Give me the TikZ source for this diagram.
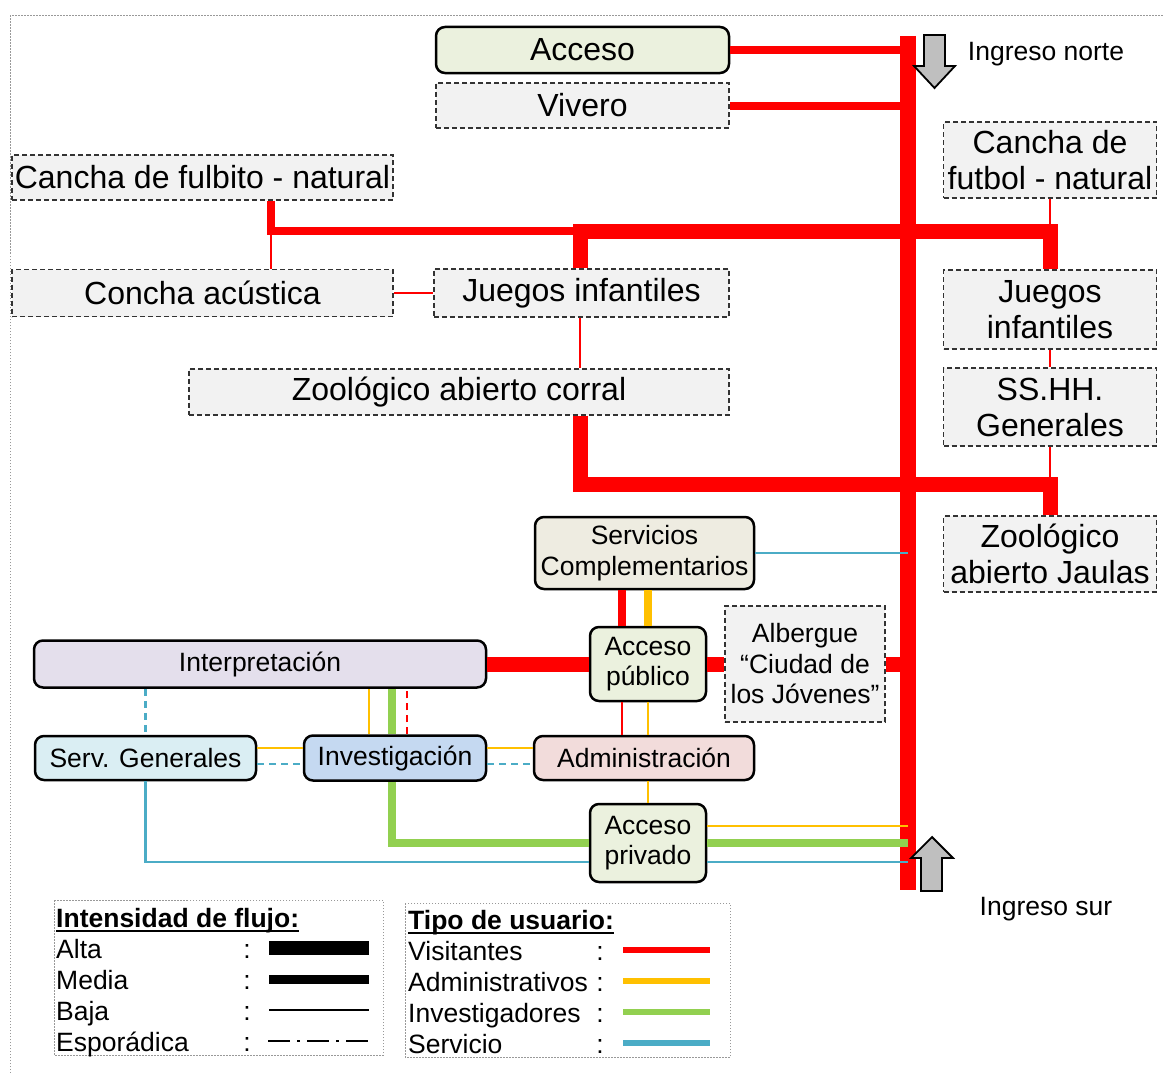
\documentclass[tikz,border=0pt]{standalone}
\usepackage{fontspec}
\setmainfont{Liberation Sans}
\usetikzlibrary{calc}
\definecolor{cred}{HTML}{FF0000}
\definecolor{cyel}{HTML}{FFC000}
\definecolor{cgreen}{HTML}{92D050}
\definecolor{cblue}{HTML}{4BACC6}
\definecolor{fgris}{HTML}{F2F2F2}
\definecolor{fverde}{HTML}{EBF1DE}
\definecolor{fbeige}{HTML}{EEECE1}
\definecolor{flila}{HTML}{E4DFEC}
\definecolor{fceleste}{HTML}{DAEEF3}
\definecolor{fazul}{HTML}{C5D9F1}
\definecolor{frosa}{HTML}{F2DCDB}
\definecolor{cflecha}{HTML}{BFBFBF}
\newcommand{\grande}{\fontsize{32}{36}\selectfont}
\newcommand{\chico}{\fontsize{26.5}{30.5}\selectfont}
\tikzset{
  zona/.style={draw=black!80, dash pattern=on 5pt off 3pt, line width=1.3pt, fill=fgris, align=center, inner sep=0pt, font=\grande},
  area/.style={draw=black, line width=2.5pt, rounded corners=9pt, fill=#1, align=center, inner sep=0pt, font=\chico},
  area/.default=fverde,
  alta/.style={draw=#1, line width=15pt},
  alta/.default=cred,
  media/.style={draw=#1, line width=8pt},
  media/.default=cred,
  baja/.style={draw=#1, line width=2.5pt},
  baja/.default=cred,
  espor/.style={draw=#1, line width=2.5pt, dash pattern=on 7pt off 5pt},
  espor/.default=cred,
  flecha/.style={draw=black, line width=1.8pt, fill=cflecha},
  marco/.style={draw=black!40, dash pattern=on 1.5pt off 1.5pt, line width=1pt},
  rotulo/.style={font=\chico, inner sep=0pt},
  leyenda/.style={font=\chico, inner sep=0pt, anchor=base west},
}

\begin{document}
\begin{tikzpicture}[x=1pt, y=-1pt]
  \useasboundingbox (0,0) rectangle (1164,1073);
  \draw[marco] (10,1073) -- (10,16) -- (1164,16);

  % zonas de visitantes
  \node[area, font=\grande, minimum width=293, minimum height=46] (acc) at (582.5,50) {Acceso};
  \node[zona, minimum width=293, minimum height=45] (viv) at (582.5,105.5) {Vivero};
  \node[zona, minimum width=381, minimum height=45] (fulb) at (202.5,177.5) {Cancha de fulbito - natural};
  \node[zona, minimum width=381, minimum height=47] (concha) at (202.5,293) {Concha acústica};
  \node[zona, minimum width=295, minimum height=48] (jueM) at (581.5,293) {Juegos infantiles};
  \node[zona, minimum width=540, minimum height=46] (zooC) at (459,392) {Zoológico abierto corral};
  \node[zona, minimum width=213, minimum height=76] (futR) at (1050,160) {Cancha de\\futbol - natural};
  \node[zona, minimum width=213, minimum height=79] (jueR) at (1050,309.5) {Juegos\\infantiles};
  \node[zona, minimum width=213, minimum height=78] (ssh) at (1050,407) {SS.HH.\\Generales};
  \node[zona, minimum width=213, minimum height=76] (zooJ) at (1050,554) {Zoológico\\abierto Jaulas};

  % zona de servicio e investigacion
  \node[area=fbeige, minimum width=219, minimum height=72] (servC) at (644.5,553) {Servicios\\Complementarios};
  \node[area, minimum width=116, minimum height=74] (apub) at (648,664) {Acceso\\público};
  \node[zona, font=\chico, minimum width=160, minimum height=116] (alb) at (805,664) {Albergue\\“Ciudad de\\los Jóvenes”};
  \node[area=flila, minimum width=452, minimum height=47] (interp) at (260,664) {Interpretación};
  \node[area=fceleste, minimum width=221, minimum height=44] (servG) at (145.5,758) {Serv. Generales};
  \node[area=fazul, minimum width=182, minimum height=45] (inv) at (395,758) {Investigación};
  \node[area=frosa, minimum width=220, minimum height=44] (adm) at (644,758) {Administración};
  \node[area, minimum width=116, minimum height=78] (apriv) at (648,843) {Acceso\\privado};

  % eje principal y entradas
  \coordinate (nTop) at (908,36);
  \coordinate (sBot) at (908,890);
  \draw[cred, line width=16pt] (nTop) -- (sBot);
  \draw[flecha] (924,35) -- (945,35) -- (945,66) -- (955,66) -- (934.5,88) -- (914,66) -- (924,66) -- cycle;
  \draw[flecha] (921,891) -- (942,891) -- (942,858) -- (953,858) -- (932,837) -- (911,858) -- (921,858) -- cycle;
  \node[rotulo] (ingN) at (1046,54) {Ingreso norte};
  \node[rotulo] (ingS) at (1046,909) {Ingreso sur};

  % recorridos de visitantes
  \coordinate (c0) at (271,231);
  \coordinate (c1) at (580,231);
  \coordinate (c2) at (580,484);
  \draw[media] (acc.east) -- (acc.east -| nTop);
  \draw[media] (viv.east) -- (viv.east -| nTop);
  \draw[media] (fulb.south -| c0) -- (c0) -- (c1);
  \draw[baja] (c0) -- (concha.north -| c0);
  \draw[alta] (c1 |- jueM.north) -- (c1) -| (jueR.north);
  \draw[baja] (futR.south) -- (futR.south |- c1);
  \draw[baja] (concha.east) -- (concha.east -| jueM.west);
  \draw[baja] (c1 |- jueM.south) -- (c1 |- zooC.north);
  \draw[alta] (c1 |- zooC.south) -- (c2) -| (zooJ.north);
  \draw[baja] (jueR.south) -- (ssh.north);
  \draw[baja] (ssh.south) -- (ssh.south |- c2);
  \draw[alta] (interp.east) -- (apub.west);
  \draw[alta] (apub.east) -- (alb.west);
  \draw[alta] (alb.east) -- (alb.east -| nTop);
  \draw[baja=cblue] (servC.east) -- (servC.east -| nTop);

  % entre servicios y acceso publico
  \coordinate (pR) at ($(apub.north)+(-26,0)$);
  \coordinate (qR) at ($(apub.south)+(-26,0)$);
  \draw[media] (pR) -- (pR |- servC.south);
  \draw[media=cyel] (apub.north) -- (apub.north |- servC.south);
  \draw[baja] (qR) -- (qR |- adm.north);
  \draw[baja=cyel] (apub.south) -- (apub.south |- adm.north);
  \draw[baja=cyel] (adm.south -| apriv.north) -- (apriv.north);

  % interpretacion, investigacion y servicios generales
  \coordinate (iA) at ($(inv.north)+(-26,0)$);
  \coordinate (iV) at ($(inv.north)+(-3,0)$);
  \coordinate (iR) at ($(inv.north)+(12,0)$);
  \draw[espor=cblue] (servG.north |- interp.south) -- (servG.north);
  \draw[baja=cyel] (iA) -- (iA |- interp.south);
  \draw[media=cgreen] (iV |- interp.south) -- (iV);
  \draw[espor] (iR) -- (iR |- interp.south);
  \coordinate (gA) at ($(servG.east)+(0,-10)$);
  \coordinate (gS) at ($(servG.east)+(0,6)$);
  \coordinate (vA) at ($(inv.east)+(0,-10)$);
  \coordinate (vS) at ($(inv.east)+(0,6)$);
  \draw[baja=cyel] (gA) -- (gA -| inv.west);
  \draw[espor=cblue] (gS) -- (gS -| inv.west);
  \draw[baja=cyel] (vA) -- (vA -| adm.west);
  \draw[espor=cblue] (vS) -- (vS -| adm.west);

  % salida por el acceso privado
  \coordinate (pA) at ($(apriv.east)+(0,-17)$);
  \coordinate (pS) at ($(apriv.west)+(0,19)$);
  \coordinate (pT) at ($(apriv.east)+(0,19)$);
  \draw[media=cgreen] (iV |- inv.south) |- (apriv.west);
  \draw[media=cgreen] (apriv.east) -- (apriv.east -| nTop);
  \draw[baja=cyel] (pA) -- (pA -| nTop);
  \draw[baja=cblue] (servG.south) |- (pS);
  \draw[baja=cblue] (pT) -- (pT -| nTop);

  % leyenda: intensidad
  \draw[marco] (54,900) rectangle (383,1055);
  \node[leyenda, font=\chico\bfseries] (tInt) at (56,927) {Intensidad de flujo:};
  \draw[line width=2.5pt] ($(tInt.base west)+(0,4)$) -- ($(tInt.base east)+(0,4)$);
  \foreach \nom/\y/\g in {Alta/948/14, Media/979/9, Baja/1010/2.2} {
    \node[leyenda] (f\y) at (56,\y+10) {\nom};
    \node[rotulo, anchor=base] (d\y) at (247,\y+10) {:};
    \draw[line width=\g pt] (269,\y) -- (369,\y);
  }
  \node[leyenda] (f1041) at (56,1051) {Esporádica};
  \node[rotulo, anchor=base] (d1041) at (247,1051) {:};
  \draw[line width=2.2pt, dash pattern=on 22pt off 7pt on 3pt off 7pt] (268,1041) -- (368,1041);

  % leyenda: usuarios
  \draw[marco] (405,903) rectangle (730,1057);
  \node[leyenda, font=\chico\bfseries] (tUsu) at (408,929) {Tipo de usuario:};
  \draw[line width=2.5pt] ($(tUsu.base west)+(0,4)$) -- ($(tUsu.base east)+(0,4)$);
  \foreach \nom/\y/\c in {Visitantes/950/cred, Administrativos/981/cyel, Investigadores/1012/cgreen, Servicio/1043/cblue} {
    \node[leyenda] (u\y) at (408,\y+10) {\nom};
    \node[rotulo, anchor=base] (e\y) at (600,\y+10) {:};
    \draw[\c, line width=6pt] (623,\y) -- (710,\y);
  }
\end{tikzpicture}
\end{document}
